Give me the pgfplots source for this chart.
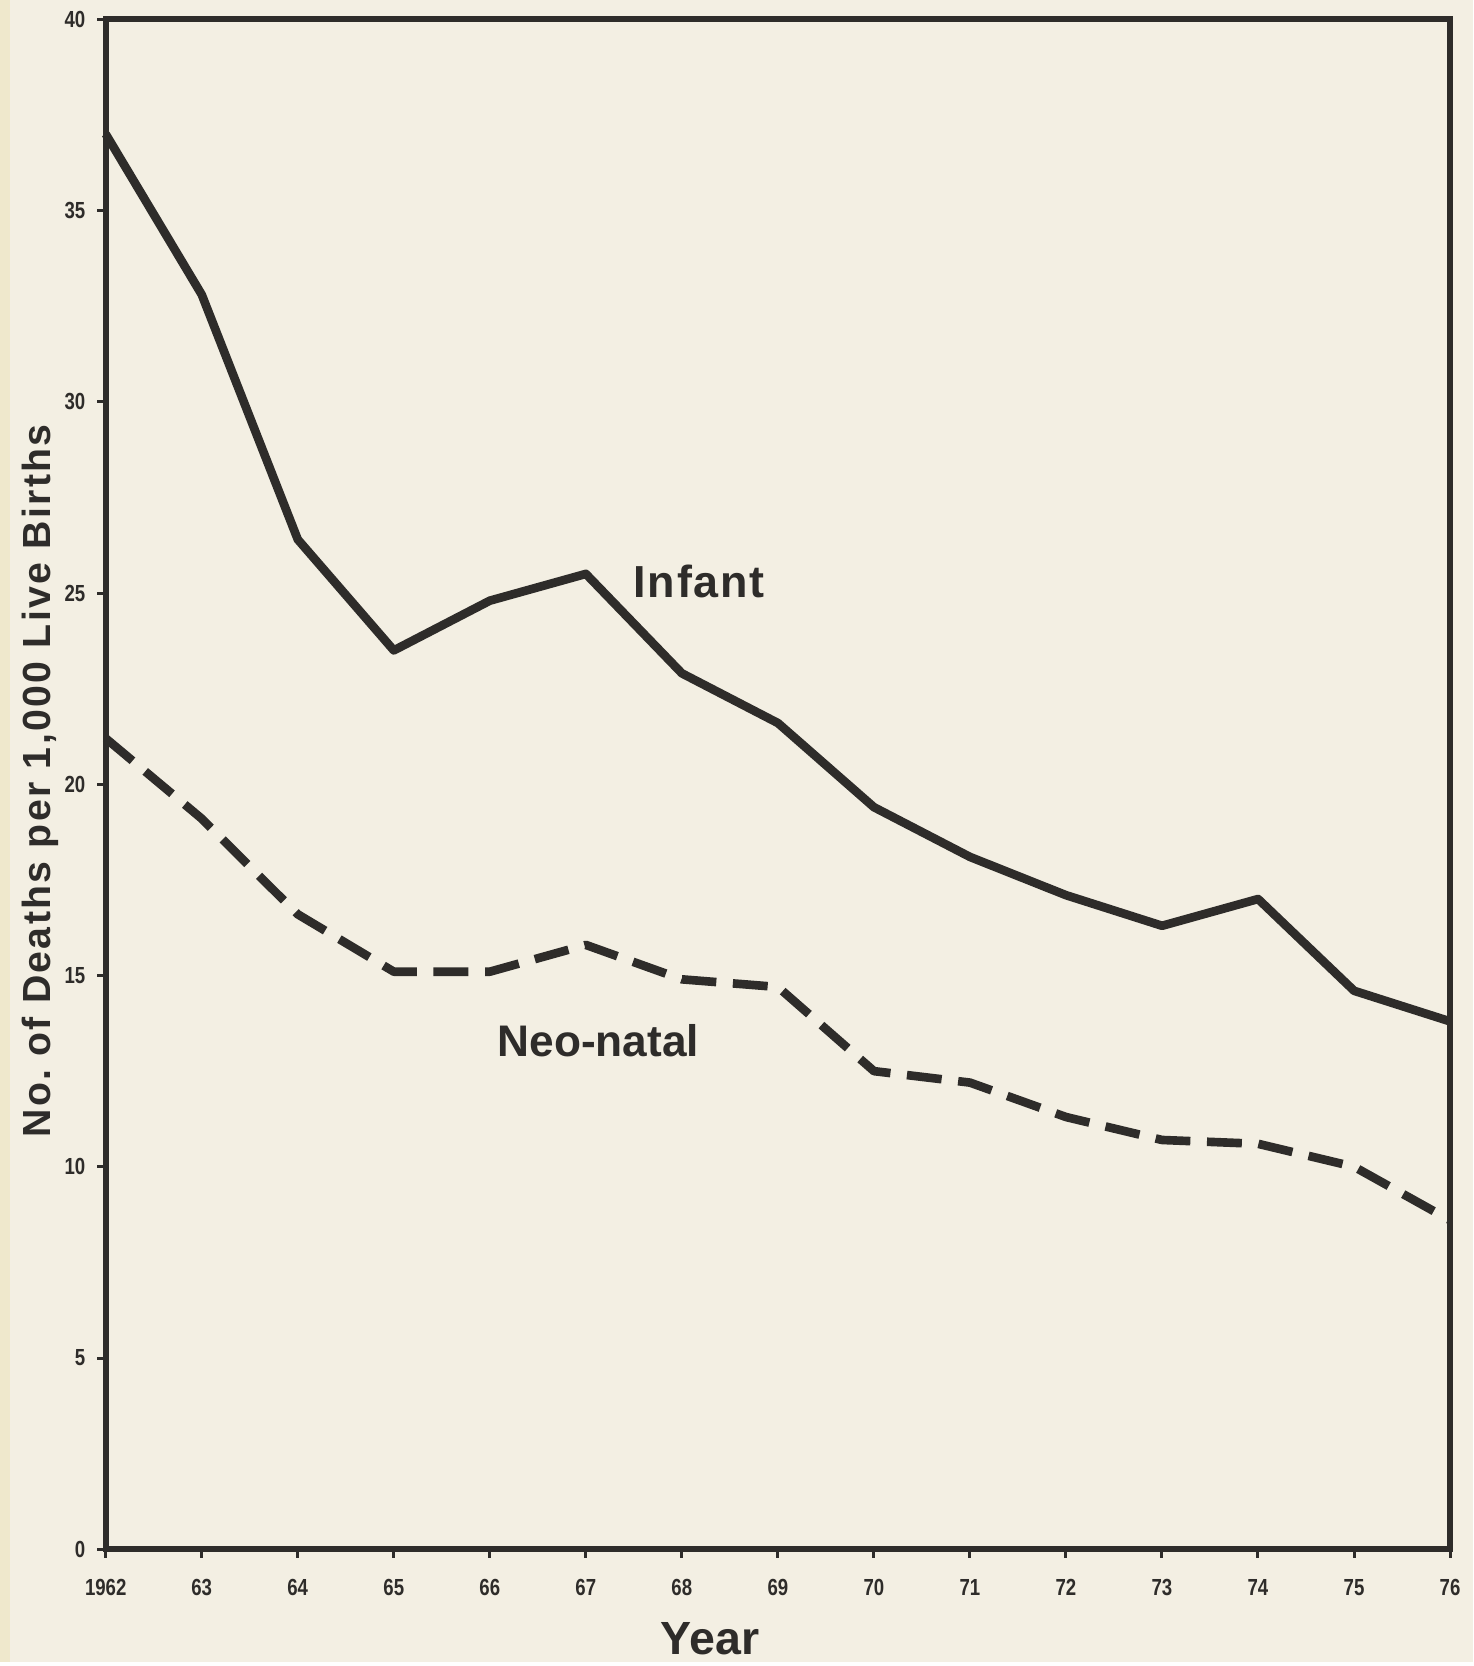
\documentclass[border=0pt]{standalone}
\usepackage{fontspec}
\setmainfont{Liberation Sans}
\newfontfamily\narrowfont[FakeStretch=0.8]{Liberation Sans}
\usepackage{pgfplots}
\pgfplotsset{compat=1.18}
\definecolor{paper}{HTML}{F3EFE3}
\definecolor{edge}{HTML}{EFE8CC}
\definecolor{ink}{HTML}{2E2C2A}
\begin{document}
\begin{tikzpicture}
\fill[paper] (0,0) rectangle (443.1pt,499.8pt);
\fill[edge] (0,0) rectangle (3pt,499.8pt);
\begin{axis}[
  at={(31.8pt,33.9pt)}, anchor=south west,
  width=404.4pt, height=460.2pt, scale only axis,
  xmin=1962, xmax=1976, ymin=0, ymax=40,
  xtick={1962,...,1976},
  xticklabels={1962,63,64,65,66,67,68,69,70,71,72,73,74,75,76},
  ytick={0,5,...,40},
  axis line style={ink, line width=1.9pt},
  every tick/.style={ink, line width=0.9pt},
  tick align=outside, major tick length=2.6pt,
  xtick pos=bottom, ytick pos=left,
  ticklabel style={font=\narrowfont\bfseries\fontsize{7}{8}\selectfont, text=ink},
  xticklabel style={yshift=-3pt},
  /pgf/number format/assume math mode=true,
  clip=false,
]
\addplot[ink, line width=2.6pt, line join=round] coordinates {
(1962,37.0) (1963,32.8) (1964,26.4) (1965,23.5) (1966,24.8) (1967,25.5)
(1968,22.9) (1969,21.6) (1970,19.4) (1971,18.1) (1972,17.1) (1973,16.3)
(1974,17.0) (1975,14.6) (1976,13.8)};
\addplot[ink, line width=2.6pt, dash pattern=on 10.5pt off 5pt, line join=round] coordinates {
(1962,21.2) (1963,19.1) (1964,16.6) (1965,15.1) (1966,15.1) (1967,15.8)
(1968,14.9) (1969,14.7) (1970,12.5) (1971,12.2) (1972,11.3) (1973,10.7)
(1974,10.6) (1975,10.0) (1976,8.6)};
\node[font=\bfseries\addfontfeature{LetterSpace=4}\fontsize{13.5}{15}\selectfont, text=ink] at (axis cs:1968.18,25.3) {Infant};
\node[font=\bfseries\fontsize{13.3}{15}\selectfont, text=ink] at (axis cs:1967.13,13.3) {Neo-natal};
\end{axis}
\node[rotate=90, font=\bfseries\addfontfeature{LetterSpace=6}\fontsize{11.8}{13}\selectfont, text=ink] at (12pt,265pt) {No.\ of Deaths per 1,000 Live Births};
\node[font=\bfseries\fontsize{14}{16}\selectfont, text=ink] at (213.6pt,7pt) {Year};
\end{tikzpicture}
\end{document}
